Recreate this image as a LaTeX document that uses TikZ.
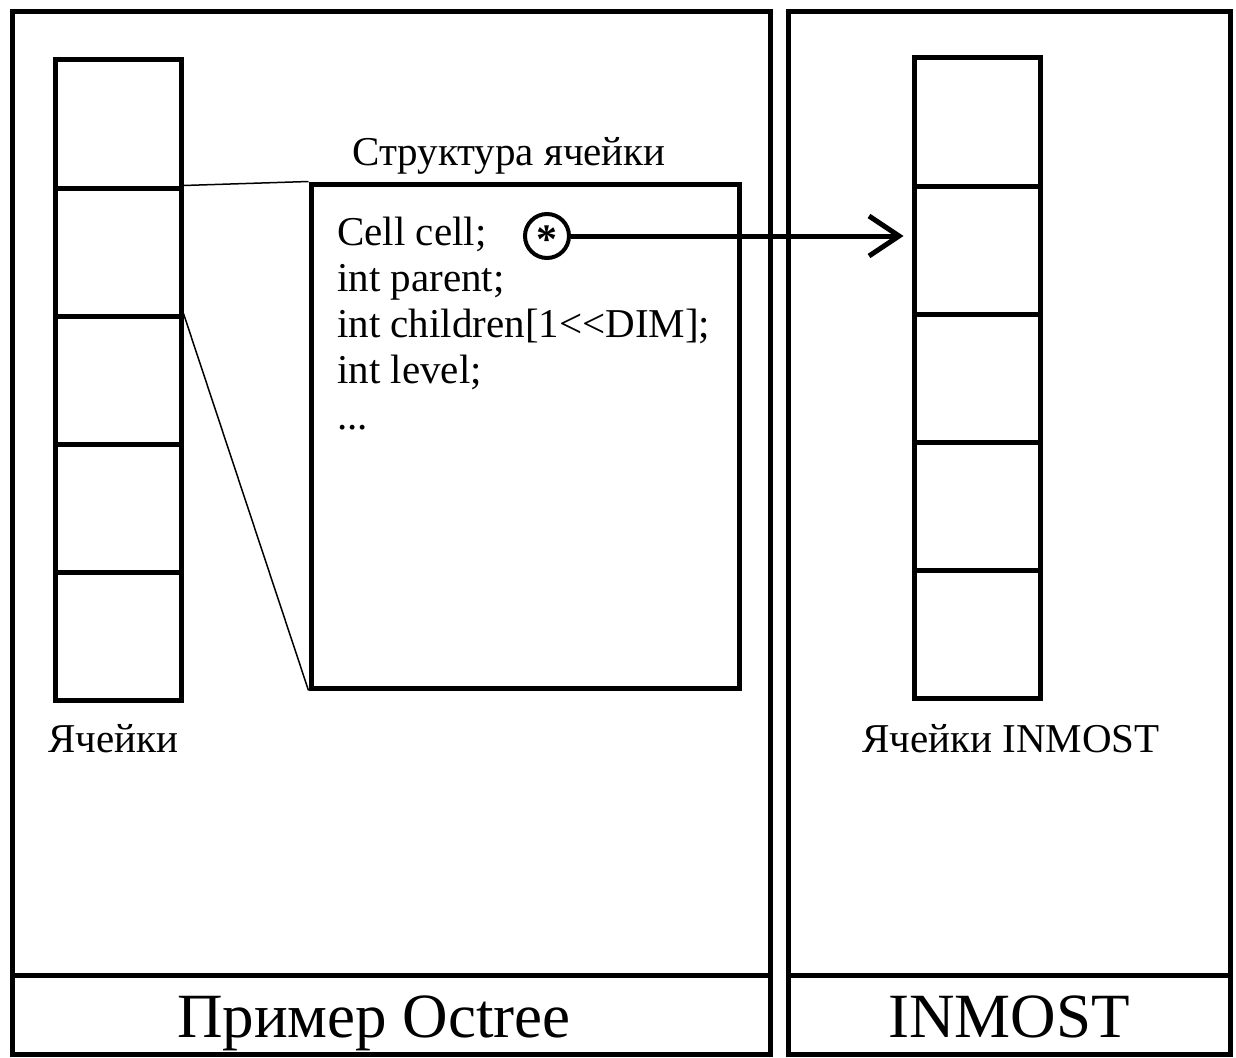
\documentclass[tikz,border=0pt]{standalone}
\usepackage{fontspec}
\setmainfont{Liberation Serif}
\usetikzlibrary{arrows.meta}
\begin{document}
\begin{tikzpicture}[
    x=1pt, y=-1pt,
    frame/.style={line width=5pt},
    cell/.style={rectangle, draw, line width=5pt, minimum width=126pt, minimum height=128pt, inner sep=0pt},
    structbox/.style={rectangle, draw, line width=5pt, minimum width=428pt, minimum height=504pt, inner sep=0pt},
    ptr/.style={circle, draw, line width=4pt, minimum size=44pt, inner sep=0pt},
    thinline/.style={line width=1.5pt},
    txt/.style={font=\fontsize{41}{46}\selectfont, inner sep=0pt},
    codetxt/.style={font=\fontsize{41}{46}\selectfont, inner sep=0pt},
    big/.style={font=\fontsize{63}{70}\selectfont, inner sep=0pt}
  ]
  \useasboundingbox (0,0) rectangle (1236,1057);
  % panels
  \draw[frame] (12,12) rectangle (770,1054);
  \draw[frame] (788,12) rectangle (1230,1054);
  \draw[frame] (12,975) -- (770,975);
  \draw[frame] (788,975) -- (1230,975);
  \node[big, anchor=base] (octree) at (374,1037) {Пример Octree};
  \node[big, anchor=base] (inmost) at (1009,1037) {INMOST};
  % octree cells
  \node[cell] (l1) at (118,124) {};
  \node[cell] (l2) at (118,252) {};
  \node[cell] (l3) at (118,380) {};
  \node[cell] (l4) at (118,508) {};
  \node[cell] (l5) at (118,636) {};
  \node[txt, anchor=base west] (lcap) at (48,752) {Ячейки};
  % inmost cells
  \node[cell] (r1) at (977,122) {};
  \node[cell] (r2) at (977,250) {};
  \node[cell] (r3) at (977,378) {};
  \node[cell] (r4) at (977,506) {};
  \node[cell] (r5) at (977,634) {};
  \node[txt, anchor=base west] (rcap) at (862,752) {Ячейки INMOST};
  % cell structure
  \node[structbox] (struct) at (525,436) {};
  \node[txt, anchor=base] (stitle) at (509,165) {Структура ячейки};
  \node[codetxt, align=left, anchor=north west] (code) at (337,217)
    {Cell cell;\\int parent;\\int children[1<\kern0pt<DIM];\\int level;\\...};
  \node[ptr] (star) at (547,236) {\fontsize{42}{46}\selectfont\bfseries\smash{\raisebox{-0.42em}{*}}};
  \draw[thinline] (l2.north east) -- (struct.north west);
  \draw[thinline] (l3.north east) -- (struct.south west);
  \draw[line width=5pt, -{Straight Barb[length=30pt, width=40pt]}, shorten >=8pt] (star) -- (star -| r2.west);
\end{tikzpicture}
\end{document}
